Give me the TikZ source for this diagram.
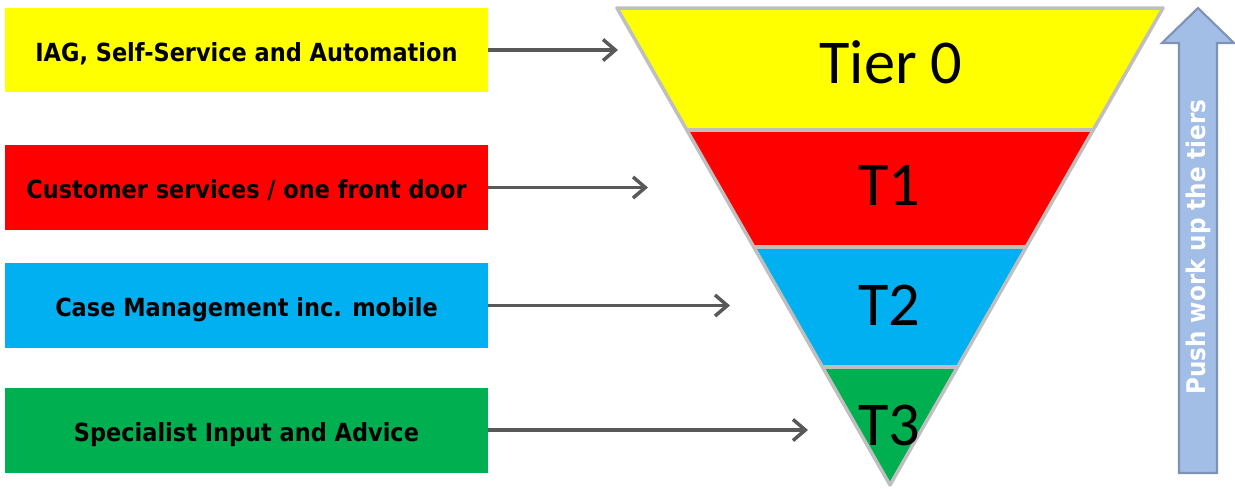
\documentclass[tikz,border=0pt]{standalone}
\usepackage{fontspec}
\setmainfont{DejaVu Sans Condensed}
\newfontfamily\tierfont{Carlito}
\usetikzlibrary{calc,positioning,arrows.meta}
\definecolor{tiery}{HTML}{FFFF00}
\definecolor{tierr}{HTML}{FF0000}
\definecolor{tierb}{HTML}{00B0F0}
\definecolor{tierg}{HTML}{00B050}
\definecolor{rimgray}{HTML}{BFBFBF}
\definecolor{arrgray}{HTML}{595959}
\definecolor{pushfill}{HTML}{A3BEE6}
\definecolor{pushdraw}{HTML}{7D92B5}
\tikzset{
>={Straight Barb[length=7pt,width=12pt]},
  labelbox/.style={
    rectangle,
    minimum width=9.66cm,
    minimum height=1.7cm,
    inner sep=0pt,
    text height=12.7pt,
    text depth=0pt,
    font=\bfseries\fontsize{14.2}{16}\selectfont,
    text centered},
  line/.style={draw=arrgray, line width=2pt, ->},
  rim/.style={draw=rimgray, line width=2pt, line join=round},
  tierlabel/.style={anchor=base, font=\tierfont\fontsize{35.5}{40}\selectfont},
}

\begin{document}
\begin{tikzpicture}[x=0.02cm, y=-0.02cm]

    \useasboundingbox (0,0) rectangle (1235,488);

    % boxes on the left
    \node[labelbox, fill=tiery] (b0) at (246.5,50) {IAG, Self-Service and Automation};
    \node[labelbox, fill=tierr] (b1) at (246.5,187.5) {Customer services / one front door};
    \node[labelbox, fill=tierb] (b2) at (246.5,305.5) {Case Management inc. mobile};
    \node[labelbox, fill=tierg] (b3) at (246.5,430) {Specialist Input and Advice};

    \coordinate (e0) at (618,50);
    \coordinate (e1) at (648,187.5);
    \coordinate (e2) at (730,305.5);
    \coordinate (e3) at (808,430);

    \foreach \i in {0,...,3} \draw[line] (b\i.east) -- (b\i.east -| e\i);

    % the funnel
    \coordinate (tl) at (617,8);
    \coordinate (tr) at (1163,8);
    \coordinate (ap) at (890,485);

    \begin{scope}
      \clip (tl) -- (tr) -- (ap) -- cycle;
      \fill[tiery] (600,0) rectangle (1180,130);
      \fill[tierr] (600,130) rectangle (1180,247);
      \fill[tierb] (600,247) rectangle (1180,367);
      \fill[tierg] (600,367) rectangle (1180,490);
    \end{scope}

    \foreach \f in {0.2558,0.5010,0.7526}
      \draw[rim] ($(tl)!\f!(ap)$) -- ($(tr)!\f!(ap)$);
    \draw[rim] (tl) -- (tr) -- (ap) -- cycle;

    \node[tierlabel] (t0) at (891,83) {Tier 0};
    \node[tierlabel] (t1) at (889,205) {T1};
    \node[tierlabel] (t2) at (889,325) {T2};
    \node[tierlabel] (t3) at (889,445) {T3};

    % push arrow
    \draw[fill=pushfill, draw=pushdraw, line width=1.2pt, line join=miter]
      (1198,8) -- (1234,43) -- (1217,43) -- (1217,473) -- (1179,473)
      -- (1179,43) -- (1162,43) -- cycle;
    \node[rotate=90, text=white, font=\bfseries\fontsize{14.6}{16}\selectfont] (push) at (1198,247) {Push work up the tiers};

\end{tikzpicture}
\end{document}
